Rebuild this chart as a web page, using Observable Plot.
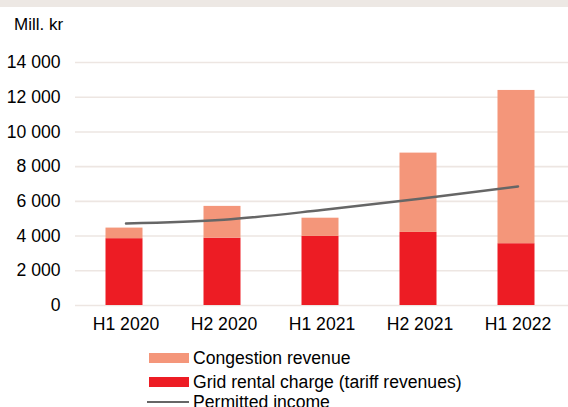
<!DOCTYPE html>
<html>
<head>
<meta charset="utf-8">
<script src="https://cdn.jsdelivr.net/npm/d3@7"></script>
<script src="https://cdn.jsdelivr.net/npm/@observablehq/plot@0.6"></script>
<style>
  html, body { margin: 0; padding: 0; background: #fff; }
  body { width: 568px; height: 407px; position: relative; overflow: hidden; font-family: "Liberation Sans", Arial, sans-serif; color: #000; }
  #band { position: absolute; left: 0; top: 0; width: 568px; height: 7px; background: #ede8e4; }
  #unit { position: absolute; left: 14px; top: 15px; font-size: 17px; }
  #chart { position: absolute; left: 0; top: 0; }
  #legend { position: absolute; left: 147px; top: 348px; font-size: 17.6px; }
  .row { position: absolute; left: 0; white-space: nowrap; height: 20px; }
  .sw { position: absolute; left: 2px; width: 40px; height: 10px; }
  .ln { position: absolute; left: 0; width: 42px; height: 2px; background: #666; }
  .lab { position: absolute; left: 46px; line-height: 20px; top: 0; }
</style>
</head>
<body>
<div id="band"></div>
<div id="unit">Mill. kr</div>
<div id="chart"></div>
<div id="legend"></div>
<script>
const categories = ["H1 2020", "H2 2020", "H1 2021", "H2 2021", "H1 2022"];
const gridRental = [3850, 3880, 3980, 4210, 3560];
const congestion = [610, 1830, 1050, 4570, 8830];
const permitted = [4730, 4940, 5500, 6150, 6860];
const yTicks = [0, 2000, 4000, 6000, 8000, 10000, 12000, 14000];
const seriesNames = ["Congestion revenue", "Grid rental charge (tariff revenues)", "Permitted income"];
const colors = ["#f4967a", "#ed1c24", "#666666"];

const rows = categories.map((c, i) => ({
  cat: c,
  grid: gridRental[i],
  total: gridRental[i] + congestion[i],
  permitted: permitted[i]
}));

const fmt = d => d3.format(",")(d).replace(/,/g, " ");

const chart = Plot.plot({
  width: 568,
  height: 340,
  marginTop: 62,
  marginBottom: 35,
  marginLeft: 75,
  marginRight: 0,
  style: { fontFamily: "Liberation Sans, Arial, sans-serif", fontSize: "17.6px", color: "#000", background: "transparent" },
  x: { domain: categories, paddingInner: 0.625, paddingOuter: 0.3125, label: null },
  y: { domain: [0, 14000], label: null },
  marks: [
    Plot.gridY(yTicks, { stroke: "#ede6e2", strokeOpacity: 1, strokeWidth: 1.6 }),
    Plot.barY(rows, { x: "cat", y1: 0, y2: "grid", fill: colors[1], dx: -1.5 }),
    Plot.barY(rows, { x: "cat", y1: "grid", y2: "total", fill: colors[0], dx: -1.5 }),
    Plot.line(rows, { x: "cat", y: "permitted", stroke: colors[2], strokeWidth: 2.5, curve: "monotone-x" }),
    Plot.axisY(yTicks, { tickSize: 0, tickPadding: 15, tickFormat: fmt, fontSize: 17.6, label: null }),
    Plot.axisX({ tickSize: 0, tickPadding: 12, fontSize: 17.6, label: null })
  ]
});
document.getElementById("chart").appendChild(chart);

const legend = document.getElementById("legend");
const rowTops = [0, 24, 44];
seriesNames.forEach((name, i) => {
  const r = document.createElement("div");
  r.className = "row";
  r.style.top = rowTops[i] + "px";
  const s = document.createElement("div");
  if (i < 2) { s.className = "sw"; s.style.top = "5px"; s.style.background = colors[i]; }
  else { s.className = "ln"; s.style.top = "9px"; s.style.background = colors[2]; }
  const t = document.createElement("div");
  t.className = "lab";
  t.textContent = name;
  r.appendChild(s); r.appendChild(t);
  legend.appendChild(r);
});
</script>
</body>
</html>
